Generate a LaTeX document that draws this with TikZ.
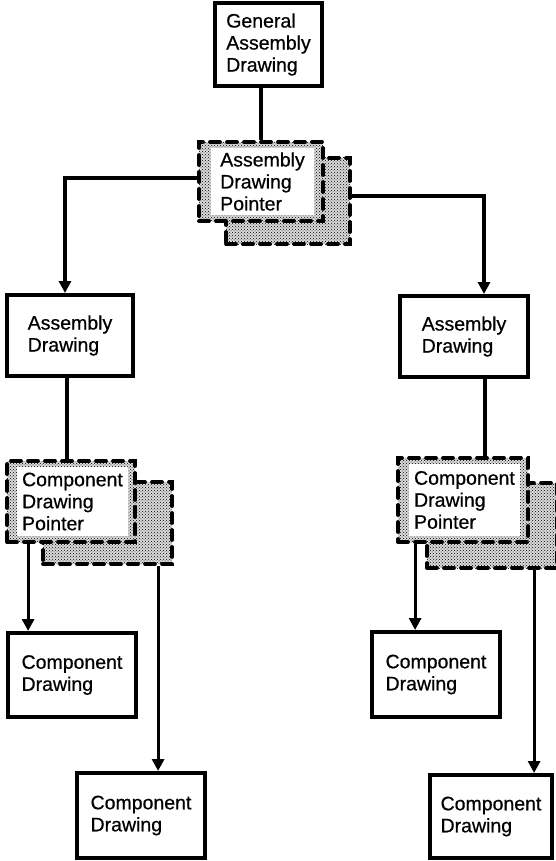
\documentclass[tikz,border=0pt]{standalone}
\usepackage{fontspec}
\setmainfont{Liberation Sans}
\newfontfamily\boxfont{Liberation Sans}[FakeBold=0.6]
\usetikzlibrary{arrows.meta,patterns}
\begin{document}
\begin{tikzpicture}[x=1pt,y=-1pt,
  txt/.style={font=\boxfont\fontsize{19.5}{22}\selectfont, align=left, text=black},
  sz/.style 2 args={minimum width=#1pt, minimum height=#2pt},
  drawbox/.style={draw, line width=4pt, inner sep=0pt, txt},
  ptrshape/.style={draw, line width=3.8pt, dash pattern=on 10pt off 7pt,
    line cap=round, preaction={fill=black!14}, pattern=crosshatch dots, inner sep=0pt},
  ptrtext/.style={fill=white, inner sep=0pt, txt},
  link/.style={line width=3.2pt},
  arr/.style={link, -{Triangle[width=12pt,length=12pt]}},
]
\useasboundingbox (0,0) rectangle (555,861);

% top level
\node[drawbox, sz={107}{83}] (gad) at (268.5,44.5) {General\\Assembly\\Drawing};

% assembly drawing pointer (shadow sheet behind, front sheet on top)
\node[ptrshape, sz={124}{86}] (pab) at (288,201) {};
\node[ptrshape, sz={124}{79}] (paf) at (261,181.5) {};
\node[ptrtext, sz={103}{67}] (pat) at (262.5,181.5) {Assembly\\Drawing\\Pointer};

% assembly drawings
\node[drawbox, sz={126}{81}] (adl) at (70,335.5) {Assembly\\Drawing};
\node[drawbox, sz={128}{81}] (adr) at (464,336.5) {Assembly\\Drawing};

% component drawing pointers
\node[ptrshape, sz={129}{82}] (clb) at (107.5,523) {};
\node[ptrshape, sz={128}{81}] (clf) at (71,501.5) {};
\node[ptrtext, sz={111}{69}] (clt) at (72.5,501.5) {Component\\Drawing\\Pointer};

\node[ptrshape, sz={130}{85}] (crb) at (492,525.5) {};
\node[ptrshape, sz={130}{84}] (crf) at (463,500) {};
\node[ptrtext, sz={111}{72}] (crt) at (464.5,500) {Component\\Drawing\\Pointer};

% component drawings
\node[drawbox, sz={128}{84}] (c1) at (72,675) {Component\\Drawing};
\node[drawbox, sz={128}{85}] (c2) at (141,815.5) {Component\\Drawing};
\node[drawbox, sz={128}{85}] (c3) at (436,674.5) {Component\\Drawing};
\node[drawbox, sz={122}{83}] (c4) at (491,816.5) {Component\\Drawing};

% connector start points
\coordinate (adl-s) at ([xshift=-3pt]adl.south);
\coordinate (adr-s) at ([xshift=21pt]adr.south);
\coordinate (clf-s) at ([xshift=23pt]clf.south west);
\coordinate (clb-s) at ([xshift=117pt]clb.south west);
\coordinate (crf-s) at ([xshift=19pt]crf.south west);
\coordinate (crb-s) at ([xshift=109pt]crb.south west);

% connectors
\draw[link] (gad.south -| paf.north) -- (paf.north);
\draw[arr] ([yshift=3.5pt]paf.west) -| ([xshift=-5pt]adl.north);
\draw[arr] ([yshift=5pt]pab.east) -| ([xshift=20pt]adr.north);
\draw[link] (adl-s) -- (adl-s |- clf.north);
\draw[link] (adr-s) -- (adr-s |- crf.north);
\draw[arr] (clf-s) -- (clf-s |- c1.north);
\draw[arr] (clb-s) -- (clb-s |- c2.north);
\draw[arr] (crf-s) -- (crf-s |- c3.north);
\draw[arr] (crb-s) -- (crb-s |- c4.north);
\end{tikzpicture}
\end{document}
